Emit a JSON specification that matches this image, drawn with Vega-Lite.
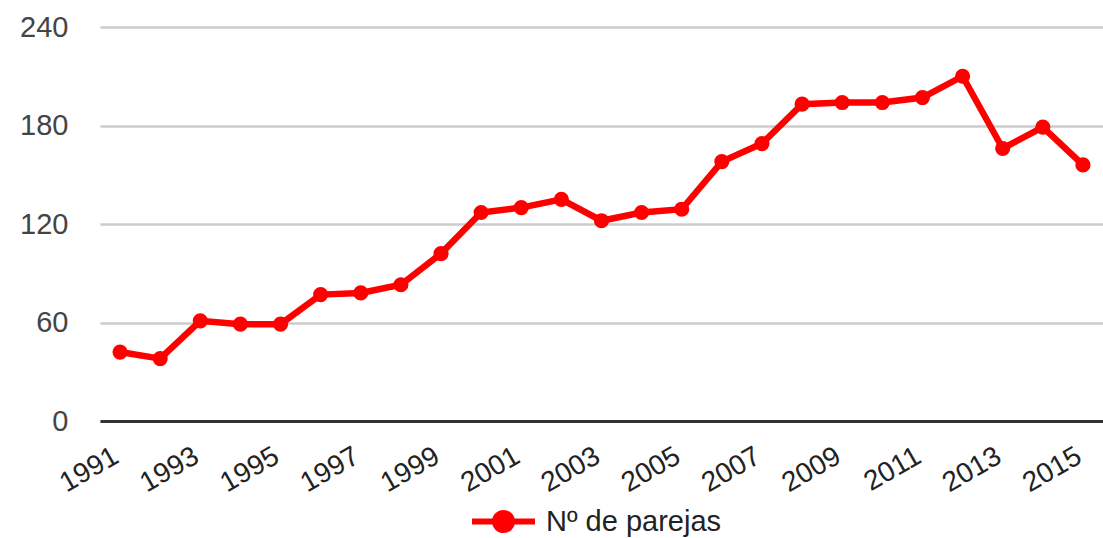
{
  "$schema": "https://vega.github.io/schema/vega-lite/v6.json",
  "width": 1003,
  "height": 394,
  "autosize": {"type": "none"},
  "padding": {"left": 100, "top": 27, "right": 0, "bottom": 117},
  "config": {"font": "Liberation Sans", "view": {"stroke": null}},
  "data": {
    "values": [
      {"year": 1991, "parejas": 42, "serie": "Nº de parejas"},
      {"year": 1992, "parejas": 38, "serie": "Nº de parejas"},
      {"year": 1993, "parejas": 61, "serie": "Nº de parejas"},
      {"year": 1994, "parejas": 59, "serie": "Nº de parejas"},
      {"year": 1995, "parejas": 59, "serie": "Nº de parejas"},
      {"year": 1996, "parejas": 77, "serie": "Nº de parejas"},
      {"year": 1997, "parejas": 78, "serie": "Nº de parejas"},
      {"year": 1998, "parejas": 83, "serie": "Nº de parejas"},
      {"year": 1999, "parejas": 102, "serie": "Nº de parejas"},
      {"year": 2000, "parejas": 127, "serie": "Nº de parejas"},
      {"year": 2001, "parejas": 130, "serie": "Nº de parejas"},
      {"year": 2002, "parejas": 135, "serie": "Nº de parejas"},
      {"year": 2003, "parejas": 122, "serie": "Nº de parejas"},
      {"year": 2004, "parejas": 127, "serie": "Nº de parejas"},
      {"year": 2005, "parejas": 129, "serie": "Nº de parejas"},
      {"year": 2006, "parejas": 158, "serie": "Nº de parejas"},
      {"year": 2007, "parejas": 169, "serie": "Nº de parejas"},
      {"year": 2008, "parejas": 193, "serie": "Nº de parejas"},
      {"year": 2009, "parejas": 194, "serie": "Nº de parejas"},
      {"year": 2010, "parejas": 194, "serie": "Nº de parejas"},
      {"year": 2011, "parejas": 197, "serie": "Nº de parejas"},
      {"year": 2012, "parejas": 210, "serie": "Nº de parejas"},
      {"year": 2013, "parejas": 166, "serie": "Nº de parejas"},
      {"year": 2014, "parejas": 179, "serie": "Nº de parejas"},
      {"year": 2015, "parejas": 156, "serie": "Nº de parejas"}
    ]
  },
  "encoding": {
    "x": {
      "field": "year",
      "type": "ordinal",
      "scale": {"type": "point", "padding": 0.5},
      "axis": {
        "title": null,
        "values": [1991, 1993, 1995, 1997, 1999, 2001, 2003, 2005, 2007, 2009, 2011, 2013, 2015],
        "labelAngle": -30,
        "labelAlign": "right",
        "labelBaseline": "alphabetic",
        "labelPadding": 40,
        "labelFontSize": 28,
        "labelColor": "#222222",
        "ticks": false,
        "domainColor": "#333333",
        "domainWidth": 3,
        "zindex": 1
      }
    },
    "y": {
      "field": "parejas",
      "type": "quantitative",
      "scale": {"domain": [0, 240]},
      "axis": {
        "title": null,
        "values": [0, 60, 120, 180, 240],
        "labelFontSize": 29,
        "labelColor": "#444444",
        "labelPadding": 32,
        "ticks": false,
        "domain": false,
        "gridColor": "#cccccc",
        "gridWidth": 2.5
      }
    },
    "color": {
      "field": "serie",
      "type": "nominal",
      "scale": {"range": ["#ff0000"]},
      "legend": {
        "title": null,
        "orient": "none",
        "legendX": 369,
        "legendY": 460,
        "symbolType": "M-1,0L1,0M0.27,0A0.27,0.27,0,1,1,-0.27,0A0.27,0.27,0,1,1,0.27,0Z",
        "symbolSize": 3969,
        "symbolStrokeWidth": 6,
        "symbolStrokeColor": "#ff0000",
        "symbolFillColor": "#ff0000",
        "labelFontSize": 29,
        "labelColor": "#222222",
        "labelOffset": 8,
        "labelLimit": 500
      }
    }
  },
  "layer": [
    {"mark": {"type": "line", "strokeWidth": 6.5}},
    {"mark": {"type": "point", "filled": true, "size": 230, "opacity": 1}}
  ]
}
